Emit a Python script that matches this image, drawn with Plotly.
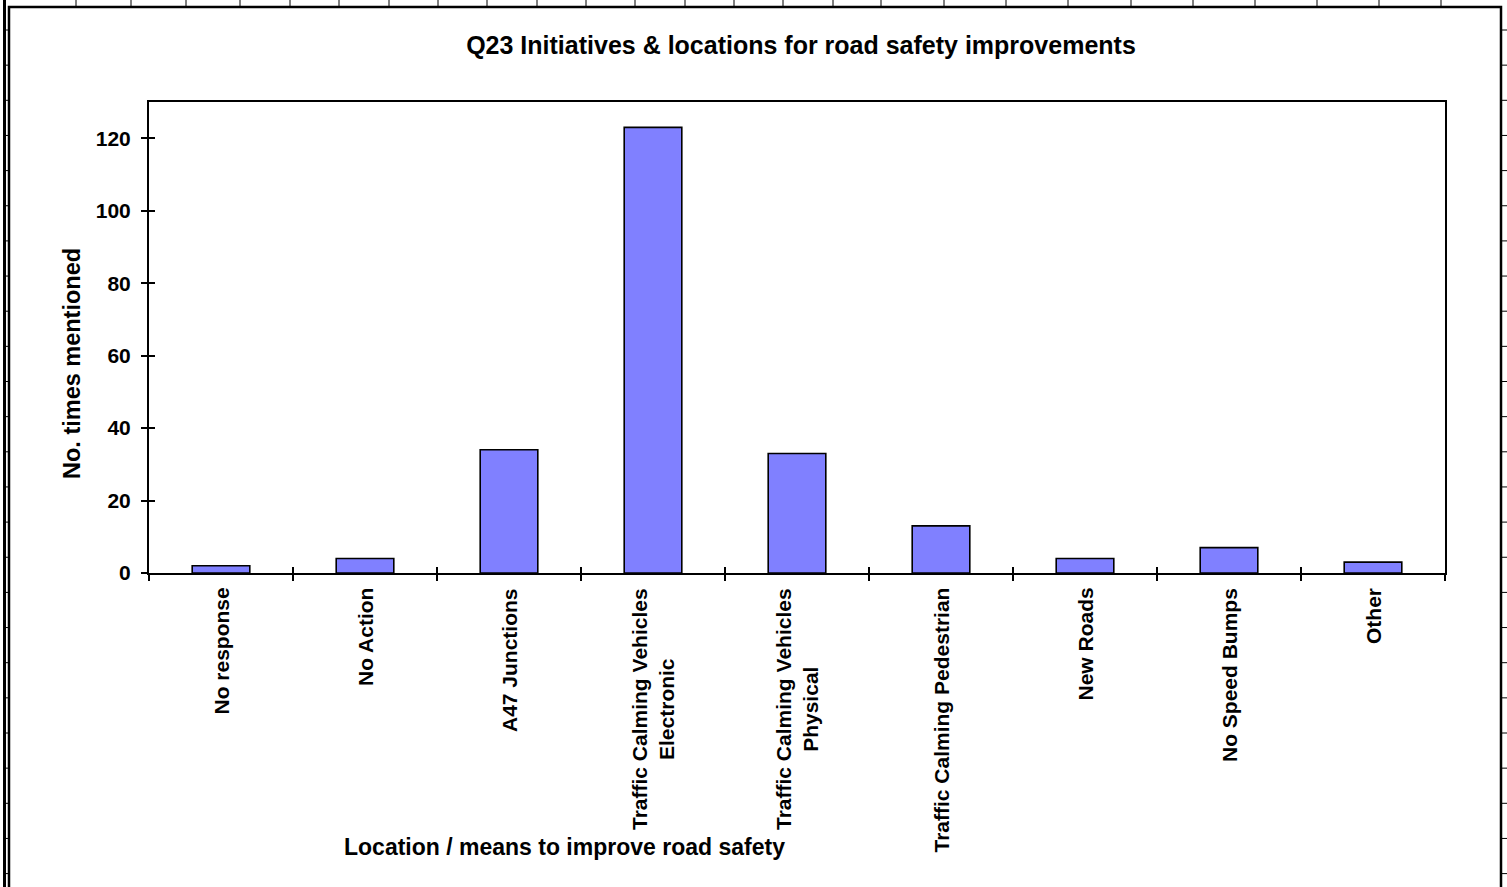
import plotly.graph_objects as go

# ---- data ----
categories = ["No response", "No Action", "A47 Junctions",
              "Traffic Calming Vehicles Electronic", "Traffic Calming Vehicles Physical",
              "Traffic Calming Pedestrian", "New Roads", "No Speed Bumps", "Other"]
tick_labels = ["No response", "No Action", "A47 Junctions",
               "Traffic Calming Vehicles<br>Electronic", "Traffic Calming Vehicles<br>Physical",
               "Traffic Calming Pedestrian", "New Roads", "No Speed Bumps", "Other"]
times_mentioned = [2, 4, 34, 123, 33, 13, 4, 7, 3]
y_range = [0, 130]
y_step = 20

title_text = "Q23 Initiatives & locations for road safety improvements"
x_title = "Location / means to improve road safety"
y_title = "No. times mentioned"

# ---- layout geometry (pixels) ----
W, H = 1507, 887
L, R, T, B = 149, 1445, 102, 573
PW, PH = R - L, B - T


def px(x):
    return (x - L) / PW


def py(y):
    return (B - y) / PH


FONT = "Arial, Liberation Sans, sans-serif"
n = len(categories)

fig = go.Figure()
fig.add_trace(go.Bar(
    x=categories, y=times_mentioned, width=0.4,
    marker=dict(color="#8080FF", line=dict(color="black", width=1.6)),
    showlegend=False, hoverinfo="x+y",
))
# empty trace to carry the inner-tick overlay axes
fig.add_trace(go.Scatter(x=[], y=[], xaxis="x2", yaxis="y2", showlegend=False))

axis_line = dict(showline=True, linecolor="black", linewidth=2, mirror=True,
                 showgrid=False, zeroline=False)

fig.update_layout(
    width=W, height=H, autosize=False,
    margin=dict(l=L, r=W - R, t=T, b=H - B, pad=0),
    paper_bgcolor="white", plot_bgcolor="white",
    font=dict(family=FONT, color="black", size=21, weight="bold"),
    title=dict(text=title_text, x=801 / W, xanchor="center",
               y=1 - 45 / H, yanchor="middle",
               font=dict(family=FONT, size=25, color="black", weight="bold")),
    xaxis=dict(type="category", categoryarray=categories, categoryorder="array",
               range=[-0.5, n - 0.5], showticklabels=False,
               ticks="outside", tickson="boundaries", ticklen=6, tickwidth=1.5,
               tickcolor="black", **axis_line),
    yaxis=dict(range=y_range, tick0=0, dtick=y_step, ticks="outside", ticklen=6,
               tickwidth=1.5, tickcolor="black", ticklabelstandoff=6,
               tickfont=dict(family=FONT, size=21, color="black", weight="bold"),
               **axis_line),
    xaxis2=dict(overlaying="x", anchor="y2", range=[-0.5, n - 0.5],
                tickvals=[i - 0.5 for i in range(n + 1)], ticks="inside", ticklen=6,
                tickwidth=1.5, tickcolor="black", showticklabels=False,
                showline=False, showgrid=False, zeroline=False),
    yaxis2=dict(overlaying="y", anchor="x2", side="left", range=y_range, tick0=0,
                dtick=y_step, ticks="inside", ticklen=6, tickwidth=1.5,
                tickcolor="black", showticklabels=False,
                showline=False, showgrid=False, zeroline=False),
    bargap=0.6,
)

# category labels, vertical, top-aligned just below the axis
annotations = []
for cat, lab in zip(categories, tick_labels):
    annotations.append(dict(
        x=cat, xref="x", y=py(586), yref="paper", text=lab, textangle=-90,
        xanchor="center", yanchor="top", align="center", showarrow=False,
        font=dict(family=FONT, size=21, color="black", weight="bold"),
    ))
# axis titles
annotations.append(dict(x=px(564), y=py(847), xref="paper", yref="paper",
                        text=x_title, showarrow=False, xanchor="center", yanchor="middle",
                        font=dict(family=FONT, size=23, color="black", weight="bold")))
annotations.append(dict(x=px(72), y=py(364), xref="paper", yref="paper",
                        text=y_title, textangle=-90, showarrow=False,
                        xanchor="center", yanchor="middle",
                        font=dict(family=FONT, size=23.5, color="black", weight="bold")))
fig.update_layout(annotations=annotations)

# ---- spreadsheet frame decoration ----
shapes = []
line_k = dict(color="black", width=2.5)
# chart area border
shapes.append(dict(type="rect", xref="paper", yref="paper",
                   x0=px(9), x1=px(1501), y0=py(7), y1=py(H + 20), line=line_k))
# outer left sheet border
shapes.append(dict(type="line", xref="paper", yref="paper",
                   x0=px(4.5), x1=px(4.5), y0=py(0), y1=py(H), line=dict(color="black", width=3)))
# top column separators
col_x = [76, 131, 186, 240, 290, 339, 389, 438, 487, 537, 586, 635, 685, 734,
         783, 833, 881, 944, 1006, 1068, 1131, 1193, 1255, 1317, 1379, 1441]
for cx in col_x:
    shapes.append(dict(type="line", xref="paper", yref="paper",
                       x0=px(cx), x1=px(cx), y0=py(0), y1=py(6),
                       line=dict(color="black", width=1)))
# row separators on both sides
ry = 30.0
while ry < H:
    shapes.append(dict(type="line", xref="paper", yref="paper",
                       x0=px(5), x1=px(9), y0=py(ry), y1=py(ry),
                       line=dict(color="black", width=1)))
    shapes.append(dict(type="line", xref="paper", yref="paper",
                       x0=px(1501), x1=px(1507), y0=py(ry), y1=py(ry),
                       line=dict(color="black", width=1)))
    ry += 35.15
fig.update_layout(shapes=shapes)

fig.write_html("out.html",
               config={"displayModeBar": False},
               post_script="document.body.style.margin='0';document.body.style.overflow='hidden';")
